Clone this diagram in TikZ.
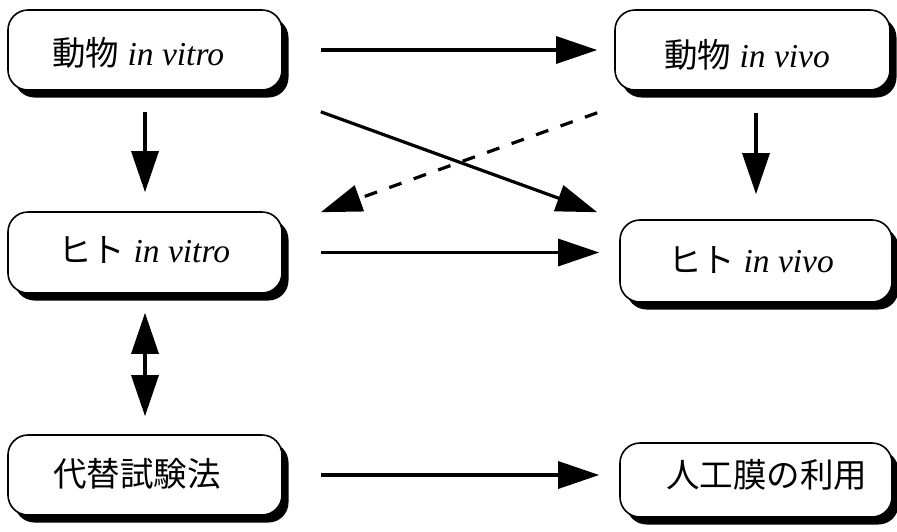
\documentclass[tikz,border=0pt]{standalone}
\usepackage{fontspec}
\setmainfont{Liberation Serif}
\newfontfamily\jp{Noto Sans CJK JP}
\usetikzlibrary{arrows.meta,shadows}
\begin{document}
\begin{tikzpicture}[x=1pt,y=-1pt,
  >={Triangle[length=41pt,width=27pt]},
  box/.style={draw, line width=1.6pt, rounded corners=20pt, fill=white,
    minimum width=274pt, minimum height=80pt, inner sep=0pt,
    drop shadow={shadow xshift=6.5pt, shadow yshift=-7.5pt, fill=black, opacity=1}},
  lbl/.style={anchor=base west, inner sep=0pt, font=\fontsize{33.5}{38}\selectfont},
  arr/.style={line width=3.2pt, ->},
]
\useasboundingbox (0,0) rectangle (897,531);

\node[box] (b1) at (145,50) {};
\node[box, minimum width=275pt] (b2) at (752.5,50) {};
\node[box, minimum height=81pt] (b3) at (145,252.5) {};
\node[box, minimum width=272pt, minimum height=82pt] (b4) at (756,261) {};
\node[box] (b5) at (145,475) {};
\node[box, minimum width=272pt, minimum height=74pt] (b6) at (756,480) {};

\node[lbl] (t1) at (52,65) {{\jp 動物} \textit{in vitro}};
\node[lbl] (t2) at (664,67) {{\jp 動物} \textit{in vivo}};
\node[lbl] (t3) at (58,262) {{\jp ヒト} \textit{in vitro}};
\node[lbl] (t4) at (668,272) {{\jp ヒト} \textit{in vivo}};
\node[lbl] (t5) at (53,486) {\jp 代替試験法};
\node[lbl] (t6) at (666,487) {\jp 人工膜の利用};

\draw[arr, shorten <=38pt, shorten >=17pt] (b1.east) -- (b2.west);
\draw[arr] ([shift={(38,21)}]b1.south east) -- ([shift={(-22,-7)}]b4.north west);
\draw[arr, dash pattern=on 13pt off 13pt] ([shift={(-17,22)}]b2.south west) -- ([shift={(38,1)}]b3.north east);
\draw[arr, shorten <=21pt, shorten >=19pt] (b1.south) -- (b3.north);
\draw[arr, shorten <=22pt, shorten >=25pt] (b4.north |- b2.south) -- (b4.north);
\draw[arr, shorten <=38pt, shorten >=20pt] (b3.east) -- (b3.east -| b4.west);
\draw[arr, <->, shorten <=19pt, shorten >=18pt] (b3.south) -- (b5.north);
\draw[arr, shorten <=38pt, shorten >=20pt] (b5.east) -- (b5.east -| b6.west);
\end{tikzpicture}
\end{document}
